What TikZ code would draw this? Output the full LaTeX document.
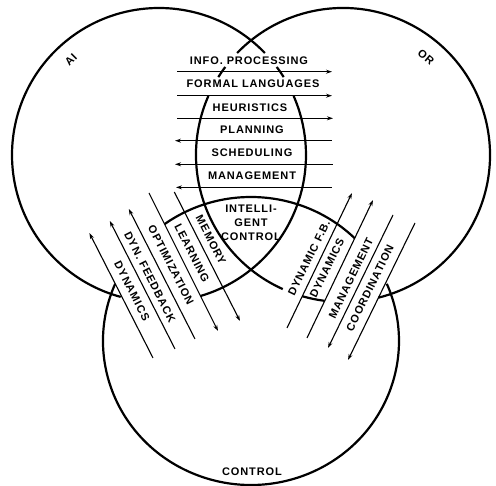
\documentclass[tikz,border=0pt]{standalone}
\usepackage{fontspec}
\setsansfont{Liberation Sans}
\usetikzlibrary{arrows.meta}

\begin{document}
\begin{tikzpicture}[x=1pt, y=1pt,
    ring/.style={line width=2.2pt},
    band/.style={line width=1.1pt},
    tipend/.style={-{Stealth[length=6pt,width=4pt]}},
    tipstart/.style={{Stealth[length=6pt,width=4pt]}-},
    lab/.style={font=\sffamily\bfseries\fontsize{11}{14}\selectfont\addfontfeature{LetterSpace=8}, inner sep=0pt, align=center}
]
    \useasboundingbox (0,0) rectangle (496,486);

    % circle centres
    \coordinate (ai) at (159,331);
    \coordinate (or) at (343,331);
    \coordinate (ctl) at (251,145);

    % AI circle
    \draw[ring] (ai) ++(-73.6:147) arc[start angle=-73.6, end angle=23.7, radius=147];
    \draw[ring] (ai) ++(32:147) arc[start angle=32, end angle=36.8, radius=147];
    \draw[ring] (ai) ++(43.9:147) arc[start angle=43.9, end angle=254.9, radius=147];

    % OR circle
    \draw[ring] (or) ++(-76.1:147) arc[start angle=-76.1, end angle=136.1, radius=147];
    \draw[ring] (or) ++(143.2:147) arc[start angle=143.2, end angle=148, radius=147];
    \draw[ring] (or) ++(156.3:147) arc[start angle=156.3, end angle=245.8, radius=147];
    \draw[ring] (or) ++(253.9:147) arc[start angle=253.9, end angle=262.8, radius=147];

    % Control circle
    \draw[ring] (ctl) ++({148*cos(156.6)},{144*sin(156.6)})
        arc[start angle=156.6, end angle=383.4, x radius=148, y radius=144];
    \draw[ring] (ctl) ++({148*cos(45.5)},{144*sin(45.5)})
        arc[start angle=45.5, end angle=125.7, x radius=148, y radius=144];

    % horizontal band
    \coordinate (h1w) at (177,414.3); \coordinate (h1e) at (332,414.3);
    \coordinate (h2w) at (177,390.3); \coordinate (h2e) at (332,390.3);
    \coordinate (h3w) at (177,367.7); \coordinate (h3e) at (333,367.7);
    \coordinate (h4w) at (175,345.3); \coordinate (h4e) at (332,345.3);
    \coordinate (h5w) at (175,321.7); \coordinate (h5e) at (333,321.7);
    \coordinate (h6w) at (176,298.6); \coordinate (h6e) at (332,298.6);
    \draw[band, tipend] (h1w) -- (h1e);
    \draw[band, tipend] (h2w) -- (h2e);
    \draw[band, tipend] (h3w) -- (h3e);
    \draw[band, tipstart] (h4w) -- (h4e);
    \draw[band, tipstart] (h5w) -- (h5e);
    \draw[band, tipstart] (h6w) -- (h6e);

    \node[lab] (info) at (249,425) {INFO. PROCESSING};
    \node[lab] (formal) at (253,402) {FORMAL LANGUAGES};
    \node[lab] (heur) at (250,378.5) {HEURISTICS};
    \node[lab] (plan) at (252,356.5) {PLANNING};
    \node[lab] (sched) at (252,333) {SCHEDULING};
    \node[lab] (mgmt) at (252,310) {MANAGEMENT};
    \node[lab] (ic) at (251,263) {INTELLI-\\GENT\\CONTROL};

    % left band
    \coordinate (l1t) at (89.4,253); \coordinate (l1b) at (153,128);
    \coordinate (l2t) at (109.8,265); \coordinate (l2b) at (175,137);
    \coordinate (l3t) at (128.8,277); \coordinate (l3b) at (195,147);
    \coordinate (l4t) at (149,293); \coordinate (l4b) at (218,155);
    \coordinate (l5t) at (174.3,294); \coordinate (l5b) at (240,165);
    \draw[band, tipend] (l1b) -- (l1t);
    \draw[band, tipend] (l2b) -- (l2t);
    \draw[band, tipend] (l3b) -- (l3t);
    \draw[band, tipend] (l4t) -- (l4b);
    \draw[band, tipend] (l5t) -- (l5b);

    \node[lab, rotate=-63] (ldyn) at (132,195) {DYNAMICS};
    \node[lab, rotate=-63] (lfb) at (150,209) {DYN. FEEDBACK};
    \node[lab, rotate=-63] (lopt) at (171,221) {OPTIMIZATION};
    \node[lab, rotate=-63] (llearn) at (192,233) {LEARNING};
    \node[lab, rotate=-63] (lmem) at (211,246) {MEMORY};

    % right band
    \coordinate (r1b) at (287,158); \coordinate (r1t) at (352,293);
    \coordinate (r2b) at (307,148); \coordinate (r2t) at (373,286);
    \coordinate (r3b) at (328,138); \coordinate (r3t) at (393,271);
    \coordinate (r4b) at (348,126); \coordinate (r4t) at (415,263);
    \draw[band, tipend] (r1b) -- (r1t);
    \draw[band, tipend] (r2b) -- (r2t);
    \draw[band, tipend] (r3t) -- (r3b);
    \draw[band, tipend] (r4t) -- (r4b);

    \node[lab, rotate=64] (rdfb) at (309,228) {DYNAMIC F.B.};
    \node[lab, rotate=64] (rdyn) at (327,218) {DYNAMICS};
    \node[lab, rotate=64] (rmgmt) at (351,208) {MANAGEMENT};
    \node[lab, rotate=64] (rcoord) at (370,198) {COORDINATION};

    % circle names
    \node[lab, rotate=45] (ailab) at (71,426) {AI};
    \node[lab, rotate=-40] (orlab) at (426,429) {OR};
    \node[lab] (ctllab) at (252,14) {CONTROL};
\end{tikzpicture}
\end{document}
